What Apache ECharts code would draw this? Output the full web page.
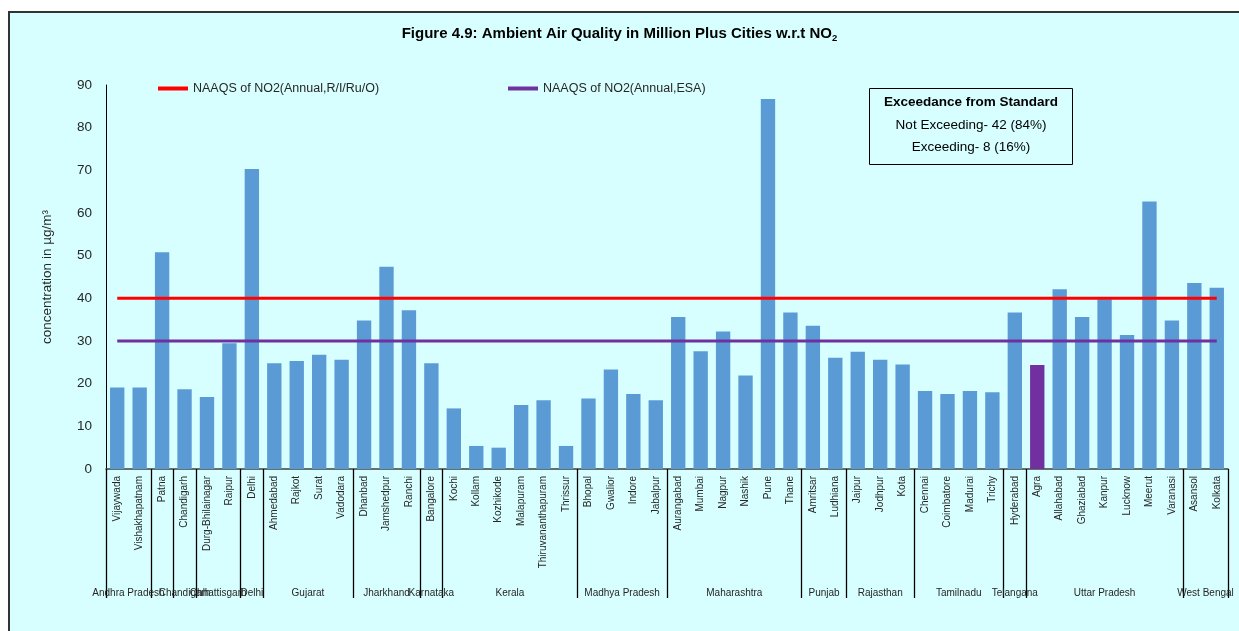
<!DOCTYPE html>
<html><head><meta charset="utf-8">
<script src="https://cdn.jsdelivr.net/npm/echarts@6/dist/echarts.min.js"></script>
<style>
html,body{margin:0;padding:0;background:#fff;overflow:hidden}
#bg{position:absolute;left:8px;top:11px;width:1240px;height:630px;background:#D8FFFF;border-left:2px solid #333;border-top:2px solid #333}
#chart{position:absolute;left:0;top:0;width:1239px;height:631px}
</style></head><body><div id="bg"></div><div id="chart"></div>
<script>
const cities = ['Vijaywada','Vishakhapatnam','Patna','Chandigarh','Durg-Bhilainagar','Raipur','Delhi','Ahmedabad','Rajkot','Surat','Vadodara','Dhanbad','Jamshedpur','Ranchi','Bangalore','Kochi','Kollam','Kozhikode','Malapuram','Thiruvananthapuram','Thrissur','Bhopal','Gwalior','Indore','Jabalpur','Aurangabad','Mumbai','Nagpur','Nashik','Pune','Thane','Amritsar','Ludhiana','Jaipur','Jodhpur','Kota','Chennai','Coimbatore','Madurai','Trichy','Hyderabad','Agra','Allahabad','Ghaziabad','Kanpur','Lucknow','Meerut','Varanasi','Asansol','Kolkata'];
const no2 = [19.1,19.1,50.8,18.7,16.9,29.5,70.3,24.8,25.3,26.8,25.6,34.8,47.4,37.2,24.8,14.2,5.4,5.0,15.0,16.1,5.4,16.5,23.3,17.6,16.1,35.6,27.6,32.2,21.9,86.7,36.7,33.6,26.1,27.5,25.6,24.5,18.3,17.6,18.3,18.0,36.7,24.4,42.1,35.6,39.8,31.4,62.7,34.8,43.6,42.5];
const states = ['Andhra Pradesh','Bihar','Chandigarh','Chhattisgarh','Delhi','Gujarat','Jharkhand','Karnataka','Kerala','Madhya Pradesh','Maharashtra','Punjab','Rajasthan','Tamilnadu','Telangana','Uttar Pradesh','West Bengal'];
const stateCityCounts = [2,1,1,2,1,4,3,1,6,4,6,2,3,4,1,7,2];
const naaqsRUO = 40;
const naaqsESA = 30;
const esaCity = 'Agra';
const yTicks = [0,10,20,30,40,50,60,70,80,90];

const FF = 'Liberation Sans, Arial, sans-serif';
const TXT = '#262626';

// group boundaries & centres (in category units)
const bounds = [0];
stateCityCounts.forEach(c => bounds.push(bounds[bounds.length-1] + c));
const centres = [];
const centreName = {};
states.forEach((s,i) => { const c = (bounds[i] + bounds[i+1]) / 2; centres.push(c); centreName[c] = s; });

const chart = echarts.init(document.getElementById('chart'), null, {renderer:'canvas'});
const option = {
  backgroundColor: 'transparent',
  animation: false,
  textStyle: {fontFamily: FF},
  title: [
    {
      text: '{t|Figure 4.9: Ambient Air Quality in Million Plus Cities w.r.t NO}{s|2}',
      left: 'center', top: 20,
      textStyle: {
        rich: {
          t: {fontFamily: FF, fontSize: 15, fontWeight: 'bold', color: '#000', lineHeight: 18},
          s: {fontFamily: FF, fontSize: 9.5, fontWeight: 'bold', color: '#000', lineHeight: 10, verticalAlign: 'bottom'}
        }
      }
    },
    {
      text: '{b|Exceedance from Standard}\n{n|Not Exceeding- 42 (84%)}\n{n|Exceeding- 8 (16%)}',
      left: 869, top: 83,
      borderColor: '#000', borderWidth: 1,
      padding: [7, 15, 11, 15],
      textStyle: {
        fontWeight: 'normal',
        rich: {
          b: {fontFamily: FF, fontSize: 13.5, fontWeight: 'bold', color: '#000', lineHeight: 24, align: 'center'},
          n: {fontFamily: FF, fontSize: 13.5, fontWeight: 'normal', color: '#000', lineHeight: 22, align: 'center'}
        }
      }
    }
  ],
  legend: [
    {
      data: ['NAAQS of NO2(Annual,R/I/Ru/O)'],
      left: 153, top: 77,
      icon: 'rect', itemWidth: 30, itemHeight: 4,
      textStyle: {fontFamily: FF, fontSize: 12.5, color: TXT}
    },
    {
      data: ['NAAQS of NO2(Annual,ESA)'],
      left: 503, top: 77,
      icon: 'rect', itemWidth: 30, itemHeight: 4,
      textStyle: {fontFamily: FF, fontSize: 12.5, color: TXT}
    }
  ],
  grid: {left: 106, right: 11, top: 85, bottom: 162, containLabel: false},
  xAxis: [
    {
      type: 'category',
      data: cities,
      boundaryGap: true,
      axisLine: {show: true, lineStyle: {color: '#404040', width: 1.5}},
      axisTick: {show: false},
      axisLabel: {rotate: 90, interval: 0, margin: 7, fontSize: 10, color: TXT, fontFamily: FF},
      splitLine: {show: false}
    },
    {
      type: 'value',
      min: 0, max: bounds[bounds.length-1],
      position: 'bottom',
      axisLine: {show: false},
      splitLine: {show: false},
      axisTick: {show: true, customValues: bounds, length: 129, inside: false, lineStyle: {color: '#000', width: 1.3}},
      axisLabel: {show: true, customValues: centres, margin: 119, fontSize: 10, color: TXT, fontFamily: FF,
        showMinLabel: true, showMaxLabel: true, hideOverlap: false,
        formatter: v => centreName[v] || ''}
    }
  ],
  yAxis: {
    type: 'value',
    min: 0, max: 90, interval: 10,
    name: 'concentration in µg/m³',
    nameLocation: 'middle', nameGap: 52,
    nameTextStyle: {fontSize: 13.5, color: TXT, fontFamily: FF},
    axisLine: {show: true, lineStyle: {color: '#000', width: 1}},
    axisTick: {show: false},
    splitLine: {show: false},
    axisLabel: {fontSize: 13.5, color: TXT, margin: 14, fontFamily: FF,
      customValues: yTicks}
  },
  series: [
    {
      type: 'bar',
      name: 'NO2',
      xAxisIndex: 0,
      barWidth: '64%',
      itemStyle: {color: '#5B9BD5'},
      data: no2.map((v,i) => cities[i] === esaCity ? {value: v, itemStyle: {color: '#7030A0'}} : v),
      z: 2
    },
    {
      type: 'line',
      name: 'NAAQS of NO2(Annual,R/I/Ru/O)',
      xAxisIndex: 0,
      data: [[cities[0], naaqsRUO], [cities[cities.length-1], naaqsRUO]],
      showSymbol: false, symbol: 'none',
      lineStyle: {color: '#FF0000', width: 3},
      itemStyle: {color: '#FF0000'},
      z: 3
    },
    {
      type: 'line',
      name: 'NAAQS of NO2(Annual,ESA)',
      xAxisIndex: 0,
      data: [[cities[0], naaqsESA], [cities[cities.length-1], naaqsESA]],
      showSymbol: false, symbol: 'none',
      lineStyle: {color: '#7030A0', width: 3},
      itemStyle: {color: '#7030A0'},
      z: 3
    }
  ]
};
chart.setOption(option);
</script></body></html>
